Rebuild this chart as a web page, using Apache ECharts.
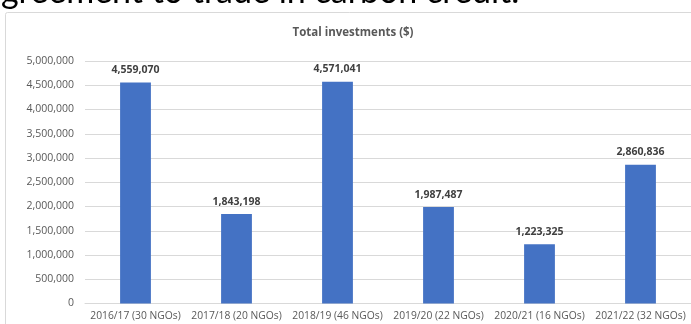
<!DOCTYPE html>
<html>
<head>
<meta charset="utf-8">
<script src="https://cdn.jsdelivr.net/npm/echarts@6/dist/echarts.min.js"></script>
<style>
  html, body { margin: 0; padding: 0; background: #ffffff; }
  #chart { width: 691px; height: 324px; }
</style>
</head>
<body>
<div id="chart"></div>
<script>
// Financial years with the number of NGOs funded in each
const categories = [
  '2016/17 (30 NGOs)',
  '2017/18 (20 NGOs)',
  '2018/19 (46 NGOs)',
  '2019/20 (22 NGOs)',
  '2020/21 (16 NGOs)',
  '2021/22 (32 NGOs)'
];

// Total investment per year, in dollars
const investments = [4559070, 1843198, 4571041, 1987487, 1223325, 2860836];

// Value axis range and step
const axisMin = 0;
const axisMax = 5000000;
const axisStep = 500000;

const fmt = v => Number(v).toLocaleString('en-US');
const font = '"Open Sans", Lato, "DejaVu Sans", sans-serif';

const chart = echarts.init(document.getElementById('chart'), null, { renderer: 'canvas' });

chart.setOption({
  animation: false,
  backgroundColor: '#ffffff',
  textStyle: { fontFamily: font },
  title: {
    text: 'Total investments ($)',
    left: 348,
    textAlign: 'center',
    top: 22,
    textStyle: { fontSize: 11.5, fontWeight: 'bold', color: '#595959', fontFamily: font }
  },
  graphic: [
    {
      // chart frame
      type: 'rect',
      shape: { x: 5.5, y: 12.5, width: 700, height: 330, r: 2 },
      style: { fill: 'none', stroke: '#d9d9d9', lineWidth: 1 },
      silent: true,
      z: -1
    },
    {
      // tail of the preceding sentence in the surrounding text
      type: 'text',
      left: -16,
      top: -25,
      style: {
        text: 'agreement to trade in carbon credit.',
        fontSize: 34,
        fontFamily: 'Lato, "Open Sans", sans-serif',
        fill: '#000000'
      },
      silent: true
    }
  ],
  grid: {
    left: 85,
    top: 61,
    width: 608,
    height: 242.5,
    containLabel: false
  },
  xAxis: {
    type: 'category',
    data: categories,
    axisLine: { show: true, lineStyle: { color: '#d9d9d9', width: 1 } },
    axisTick: { show: false },
    axisLabel: {
      color: '#595959',
      fontSize: 10.3,
      margin: 8,
      interval: 0,
      fontFamily: font
    }
  },
  yAxis: {
    type: 'value',
    min: axisMin,
    max: axisMax,
    interval: axisStep,
    axisLine: { show: false },
    axisTick: { show: false },
    splitLine: { lineStyle: { color: '#d9d9d9', width: 1 } },
    axisLabel: {
      color: '#595959',
      fontSize: 10.5,
      margin: 11,
      fontFamily: font,
      formatter: fmt
    }
  },
  series: [
    {
      type: 'bar',
      data: investments,
      barWidth: '30.5%',
      itemStyle: { color: '#4472c4' },
      label: {
        show: true,
        position: 'top',
        distance: 7,
        color: '#404040',
        fontSize: 10.5,
        fontWeight: 'bold',
        fontFamily: font,
        formatter: p => fmt(p.value)
      }
    }
  ]
});
</script>
</body>
</html>
